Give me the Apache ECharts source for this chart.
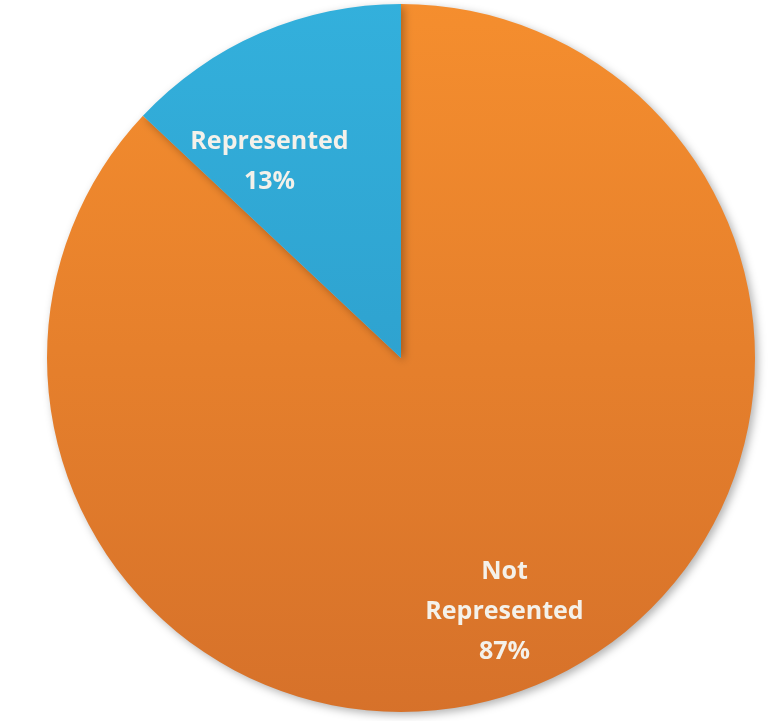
<!DOCTYPE html>
<html>
<head>
<meta charset="utf-8">
<script src="https://cdn.jsdelivr.net/npm/echarts@6/dist/echarts.min.js"></script>
<style>
    html, body { margin: 0; padding: 0; background: #ffffff; }
    #chart { width: 780px; height: 721px; }
</style>
</head>
<body>
<div id="chart"></div>
<script>
    // slice names and shares (percent)
    let names = ['Not\nRepresented', 'Represented'];
    let values = [87, 13];
    let colorsTop = ['#F58E2E', '#33B0DC'];
    let colorsBottom = ['#D6712A', '#2A95C3'];
    let labelOffsets = [[32, 89], [-60, -31]];

    let chart = echarts.init(document.getElementById('chart'));

    let data = [];
    for (let i = 0; i < values.length; i++) {
        data.push({
            name: names[i],
            value: values[i],
            itemStyle: {
                color: {
                    type: 'linear', x: 0, y: 0, x2: 0, y2: 721, global: true,
                    colorStops: [
                        { offset: 0, color: colorsTop[i] },
                        { offset: 1, color: colorsBottom[i] }
                    ]
                }
            },
            label: { offset: labelOffsets[i] }
        });
    }

    let option = {
        backgroundColor: '#ffffff',
        series: [{
            type: 'pie',
            center: [401, 358],
            radius: 354,
            startAngle: 90,
            clockwise: true,
            silent: true,
            itemStyle: {
                borderWidth: 0,
                shadowColor: 'rgba(0, 0, 0, 0.3)',
                shadowBlur: 8,
                shadowOffsetX: 3,
                shadowOffsetY: 3
            },
            label: {
                show: true,
                position: 'inside',
                formatter: '{b}\n{c}%',
                color: '#F4F1EA',
                fontFamily: 'Open Sans',
                fontWeight: 'bold',
                fontSize: 25,
                lineHeight: 40,
                align: 'center'
            },
            labelLine: { show: false },
            data: data
        }]
    };
    chart.setOption(option);
</script>
</body>
</html>
